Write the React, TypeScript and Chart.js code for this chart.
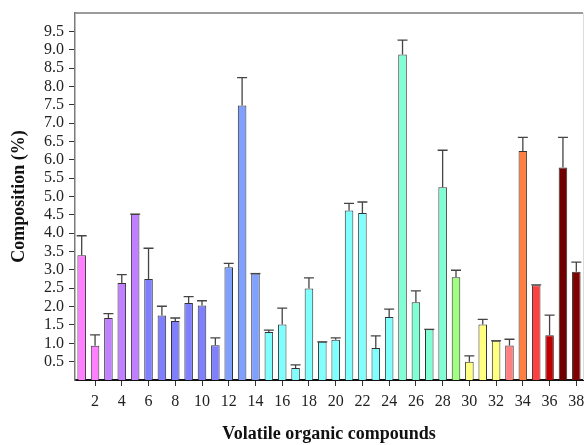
import React, { useEffect, useRef } from "react";
import { Chart, registerables } from "chart.js";

Chart.register(...registerables);

const categories = Array.from({ length: 38 }, (_, i) => String(i + 1));

const composition = [
  3.40, 0.93, 1.69, 2.64, 4.52, 2.75, 1.76, 1.61, 2.10, 2.03,
  0.95, 3.07, 7.48, 2.90, 1.31, 1.51, 0.33, 2.49, 1.04, 1.10,
  4.62, 4.55, 0.87, 1.72, 8.87, 2.12, 1.38, 5.25, 2.80, 0.50,
  1.51, 1.07, 0.94, 6.24, 2.58, 1.22, 5.79, 2.95,
];

const errorTop = [
  3.93, 1.23, 1.81, 2.87, 4.52, 3.59, 2.01, 1.69, 2.27, 2.16,
  1.15, 3.18, 8.24, 2.90, 1.36, 1.96, 0.41, 2.78, 1.04, 1.15,
  4.81, 4.85, 1.20, 1.93, 9.26, 2.43, 1.38, 6.26, 2.99, 0.66,
  1.65, 1.07, 1.11, 6.61, 2.59, 1.77, 6.61, 3.21,
];

const barColors = [
  "#FF80FF", "#FF80FF",
  "#C080FF", "#C080FF", "#C080FF",
  "#8080FF", "#8080FF", "#8080FF", "#8080FF", "#8080FF", "#8080FF",
  "#80A0FF", "#80A0FF", "#80A0FF",
  "#80FFFF", "#80FFFF", "#80FFFF", "#80FFFF", "#80FFFF",
  "#80FFFF", "#80FFFF", "#80FFFF", "#80FFFF", "#80FFFF",
  "#80FFD4", "#80FFD4", "#80FFD4", "#80FFD4",
  "#A0FF80",
  "#FFFF80", "#FFFF80", "#FFFF80",
  "#FF8080",
  "#FF8040",
  "#FF4040",
  "#C00000",
  "#700000",
  "#800000",
];

const yTickValues = [0.5, 1, 1.5, 2, 2.5, 3, 3.5, 4, 4.5, 5, 5.5, 6, 6.5, 7, 7.5, 8, 8.5, 9, 9.5];

const FONT = "'Liberation Serif', 'Times New Roman', serif";

const errorBarPlugin = {
  id: "errorBars",
  afterDatasetsDraw(chart: any) {
    const meta = chart.getDatasetMeta(0);
    const yScale = chart.scales.y;
    const ctx = chart.ctx;
    ctx.save();
    ctx.strokeStyle = "#444";
    ctx.lineWidth = 1.3;
    meta.data.forEach((el: any, i: number) => {
      const top = Math.max(errorTop[i], composition[i]);
      const yT = yScale.getPixelForValue(top);
      const yB = el.y;
      ctx.beginPath();
      ctx.moveTo(el.x, yB);
      ctx.lineTo(el.x, yT);
      ctx.moveTo(el.x - 5, yT);
      ctx.lineTo(el.x + 5, yT);
      ctx.stroke();
    });
    ctx.restore();
  },
};

const framePlugin = {
  id: "frame",
  afterDraw(chart: any) {
    const { ctx, chartArea } = chart;
    ctx.save();
    ctx.strokeStyle = "#7a7a7a";
    ctx.lineWidth = 1.5;
    ctx.beginPath();
    ctx.moveTo(chartArea.left - 1, chartArea.top);
    ctx.lineTo(chartArea.right, chartArea.top);
    ctx.stroke();
    ctx.strokeStyle = "#dddddd";
    ctx.lineWidth = 1;
    ctx.beginPath();
    ctx.moveTo(chartArea.right + 0.5, chartArea.top);
    ctx.lineTo(chartArea.right + 0.5, chartArea.bottom);
    ctx.stroke();
    ctx.restore();
  },
};

export default function App() {
  const canvasRef = useRef<HTMLCanvasElement | null>(null);

  useEffect(() => {
    if (!canvasRef.current) return;
    const chart = new Chart(canvasRef.current, {
      type: "bar",
      data: {
        labels: categories,
        datasets: [
          {
            data: composition,
            backgroundColor: barColors,
            borderColor: "#333333",
            borderWidth: 1,
            barPercentage: 0.64,
            categoryPercentage: 1,
          },
        ],
      },
      options: {
        animation: false,
        responsive: false,
        layout: { padding: { top: 13, right: 1, left: 0, bottom: 0 } },
        plugins: {
          legend: { display: false },
          tooltip: { enabled: false },
        },
        scales: {
          x: {
            type: "category",
            offset: true,
            afterFit: (scale: any) => {
              scale.height = 65;
              scale.paddingLeft = 0;
              scale.paddingRight = 0;
            },
            border: { display: true, color: "#111", width: 2 },
            grid: {
              offset: false,
              drawOnChartArea: false,
              drawTicks: true,
              tickLength: 6,
              tickWidth: 1,
              color: (ctx: any) => (ctx.index % 2 === 1 ? "#333" : "rgba(0,0,0,0)"),
            },
            ticks: {
              autoSkip: false,
              maxRotation: 0,
              padding: 6,
              color: "#222",
              font: { family: FONT, size: 16 },
              callback: (_v: any, i: number) => (i % 2 === 1 ? String(i + 1) : ""),
            },
            title: {
              display: true,
              text: "Volatile organic compounds",
              color: "#111",
              font: { family: FONT, size: 18, weight: "bold" },
              padding: { top: 1, bottom: 0 },
            },
          },
          y: {
            min: 0,
            max: 10,
            afterFit: (scale: any) => {
              scale.width = 75;
              scale.paddingTop = 0;
              scale.paddingBottom = 0;
            },
            afterBuildTicks: (scale: any) => {
              scale.ticks = yTickValues.map((v) => ({ value: v }));
            },
            border: { display: true, color: "#7a7a7a", width: 1.5 },
            grid: {
              drawOnChartArea: false,
              drawTicks: true,
              tickLength: 6,
              color: "#333",
            },
            ticks: {
              autoSkip: false,
              padding: 5,
              color: "#222",
              font: { family: FONT, size: 16 },
              callback: (v: any) => Number(v).toFixed(1),
            },
            title: {
              display: true,
              text: "Composition (%)",
              color: "#111",
              font: { family: FONT, size: 18, weight: "bold" },
              padding: { top: 9, bottom: 0 },
            },
          },
        },
      },
      plugins: [errorBarPlugin, framePlugin],
    } as any);
    return () => chart.destroy();
  }, []);

  return (
    <div style={{ position: "fixed", left: 0, top: 0, width: 584, height: 445, background: "#fff" }}>
      <canvas ref={canvasRef} width={584} height={445} style={{ width: 584, height: 445 }} />
    </div>
  );
}
